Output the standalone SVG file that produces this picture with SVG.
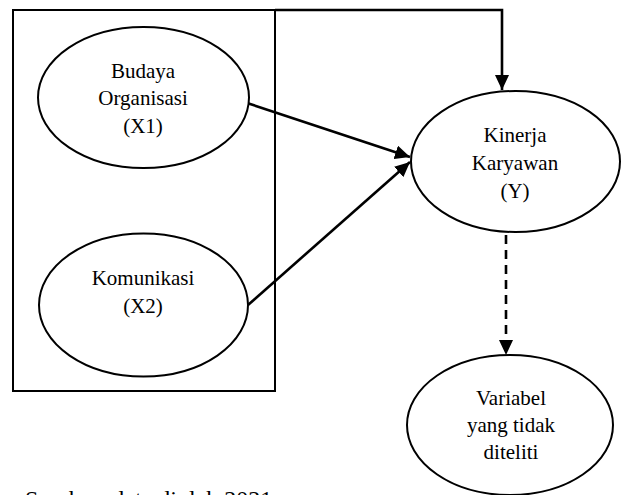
<svg xmlns="http://www.w3.org/2000/svg" width="625" height="495" viewBox="0 0 625 495">
  <style>
    .node ellipse { fill: #ffffff; stroke: #000000; stroke-width: 2; }
    .lbl { font-family: "Liberation Serif", "Times New Roman", serif; font-size: 21px; fill: #000000; text-anchor: middle; }
    .conn { fill: none; stroke: #000000; stroke-width: 2.6; }
    .dash { stroke-dasharray: 9 6; }
    .frame { fill: none; stroke: #000000; stroke-width: 2; }
  </style>
  <defs>
    <marker id="arrow" markerUnits="userSpaceOnUse" markerWidth="16" markerHeight="14" refX="15" refY="7" orient="auto">
      <path d="M0,0 L15,7 L0,14 z" fill="#000000"/>
    </marker>
  </defs>
  <rect width="625" height="495" fill="#ffffff"/>
  <rect class="frame" x="13" y="10" width="262" height="381"/>

  <g id="connectors">
    <polyline class="conn" points="275,10 502,10 502,90" stroke-width="2" marker-end="url(#arrow)"/>
    <line class="conn" x1="247" y1="103" x2="410" y2="157" marker-end="url(#arrow)"/>
    <line class="conn" x1="248" y1="305" x2="410" y2="162" marker-end="url(#arrow)"/>
    <line class="conn dash" x1="506" y1="235" x2="506" y2="355" marker-end="url(#arrow)"/>
  </g>

  <g id="budaya" class="node">
    <ellipse cx="143.5" cy="97.5" rx="105.5" ry="70.5"/>
    <text class="lbl" x="143" y="78">Budaya</text>
    <text class="lbl" x="143" y="105">Organisasi</text>
    <text class="lbl" x="143" y="133">(X1)</text>
  </g>

  <g id="komunikasi" class="node">
    <ellipse cx="143.5" cy="305" rx="104.5" ry="71.5"/>
    <text class="lbl" x="143" y="285">Komunikasi</text>
    <text class="lbl" x="143" y="313">(X2)</text>
  </g>

  <g id="kinerja" class="node">
    <ellipse cx="515.5" cy="161.5" rx="104.5" ry="70.5"/>
    <text class="lbl" x="515" y="142">Kinerja</text>
    <text class="lbl" x="515" y="170">Karyawan</text>
    <text class="lbl" x="515" y="198">(Y)</text>
  </g>

  <g id="variabel" class="node">
    <ellipse cx="510" cy="425" rx="103" ry="70"/>
    <text class="lbl" x="511" y="405">Variabel</text>
    <text class="lbl" x="511" y="432">yang tidak</text>
    <text class="lbl" x="511" y="459">diteliti</text>
  </g>

  <text x="25" y="507" font-family="&quot;Liberation Serif&quot;, &quot;Times New Roman&quot;, serif" font-size="24" fill="#000000">Sumber: data diolah 2021</text>
</svg>
